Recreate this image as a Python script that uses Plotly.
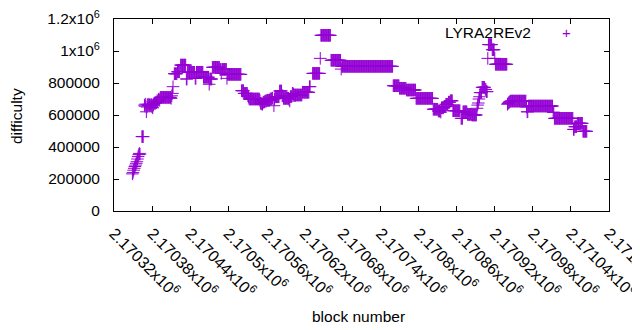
import numpy as np
import plotly.graph_objects as go

# Runs of constant difficulty: (first block offset from 2170320, number of blocks, difficulty in thousands)
base_block = 2170320
run_start = [29, 30, 31, 32, 33, 34, 35, 36, 37, 38, 39, 40, 41,
             44,
             48, 49, 50, 51, 52, 53, 54, 55, 56, 57, 58, 59, 60, 61, 62, 63, 64, 65, 66, 67, 68, 69, 70, 71, 72,
             73, 90, 91, 92, 93,
             95, 100, 105, 114, 116, 128, 130, 141, 150, 151, 155, 167, 169, 170, 178, 179,
             201, 205, 211, 212, 213,
             230, 231, 233, 235, 237, 238, 241, 246, 249, 252, 253, 254, 261, 265, 267, 276, 277, 278, 281, 283, 284, 297, 308,
             313, 325, 326, 342, 358, 359,
             440, 450, 461, 476,
             503, 511, 515, 516, 520, 523, 527, 530, 534, 547, 550, 557, 564,
             572, 573, 574, 575, 576, 577, 580, 585, 587,
             589, 590, 596, 600, 601,
             620, 621, 622, 623, 624, 625, 650, 651, 653, 692, 694,
             724, 726, 730, 739]
run_len = [1, 1, 1, 1, 1, 1, 1, 1, 1, 1, 1, 1, 1,
           3,
           1, 1, 1, 1, 1, 1, 1, 1, 1, 1, 1, 1, 1, 1, 1, 1, 1, 1, 1, 1, 1, 1, 1, 1, 1,
           17, 1, 1, 1, 1,
           5, 4, 9, 2, 12, 2, 11, 9, 1, 4, 12, 2, 1, 8, 1, 22,
           4, 6, 1, 1, 17,
           1, 2, 2, 2, 1, 3, 5, 3, 2, 1, 1, 7, 4, 2, 9, 1, 1, 3, 2, 1, 13, 11, 2,
           12, 1, 16, 16, 1, 81,
           10, 11, 15, 27,
           8, 4, 1, 4, 3, 4, 3, 4, 12, 3, 7, 7, 8,
           1, 1, 1, 1, 1, 3, 5, 2, 2,
           1, 6, 4, 1, 19,
           1, 1, 1, 1, 1, 25, 1, 2, 39, 2, 30,
           2, 4, 9, 7]
run_diff_k = [232, 240, 255, 267, 278, 287, 298, 308, 325, 340, 352, 360, 355,
              465,
              662, 655, 668, 620, 650, 665, 660, 668, 662, 665, 658, 665, 650, 645, 662, 672, 675, 672, 680, 678, 690, 685, 698, 700, 692,
              710, 704, 720, 735, 777,
              858, 870, 912, 825, 867, 829, 867, 836, 792, 825, 898, 885, 860, 885, 829, 854,
              752, 735, 720, 712, 700,
              690, 673, 668, 680, 682, 687, 692, 700, 705, 658, 700, 714, 750, 720, 704, 695, 687, 715, 735, 730, 725, 742, 777,
              860, 954, 1098, 942, 887, 904,
              783, 767, 756, 704,
              636, 625, 618, 645, 652, 667, 680, 689, 627, 579, 620, 604, 600,
              642, 662, 675, 700, 714, 740, 773, 760, 746,
              954, 1040, 1008, 954, 917,
              667, 672, 677, 681, 684, 687, 650, 620, 656, 617, 579,
              510, 527, 548, 498]

x_tick_labels = ["2.17032", "2.17038", "2.17044", "2.1705", "2.17056", "2.17062", "2.17068",
                 "2.17074", "2.1708", "2.17086", "2.17092", "2.17098", "2.17104", "2.1711"]
y_tick_values = [0, 200000, 400000, 600000, 800000, 1000000, 1200000]
y_tick_labels = ["0", "200000", "400000", "600000", "800000", "1x10<sup>6</sup>", "1.2x10<sup>6</sup>"]

blocks = np.concatenate([base_block + np.arange(s, s + n) for s, n in zip(run_start, run_len)])
difficulty = np.repeat(np.array(run_diff_k) * 1000, run_len)

x_tick_values = [float(t) * 1e6 for t in x_tick_labels]
x_tick_text = [t + "x10<sup>6</sup>" for t in x_tick_labels]

PURPLE = "#9400D3"
FONT = "Liberation Sans"

fig = go.Figure()
fig.add_trace(go.Scatter(
    x=blocks, y=difficulty, mode="markers", name="LYRA2REv2",
    marker=dict(symbol="cross-thin", size=9, line=dict(width=1, color=PURPLE), color=PURPLE),
    showlegend=False,
))

# the page body adds an 8 px offset, so margins are reduced accordingly
fig.update_layout(
    width=640, height=330,
    margin=dict(l=106, r=39, t=11, b=127),
    paper_bgcolor="white", plot_bgcolor="white",
    font=dict(family=FONT, size=15.5, color="black"),
    xaxis=dict(range=[x_tick_values[0], x_tick_values[-1]], tickvals=x_tick_values, ticktext=x_tick_text,
               tickangle=45, ticks="inside", ticklen=5, tickcolor="black", showline=True, linecolor="black",
               linewidth=1, mirror="allticks", showgrid=False, zeroline=False, automargin=False,
               ticklabelstandoff=6, ticklabeloverflow="allow", tickfont=dict(size=16)),
    yaxis=dict(range=[0, 1200000], tickvals=y_tick_values, ticktext=y_tick_labels,
               ticks="inside", ticklen=5, tickcolor="black", showline=True, linecolor="black",
               linewidth=1, mirror="allticks", showgrid=False, zeroline=False, automargin=False,
               ticklabelstandoff=10, ticklabeloverflow="allow"),
    annotations=[
        dict(text="block number", xref="paper", yref="paper", x=0.493, y=-0.547,
             xanchor="center", yanchor="middle", showarrow=False),
        dict(text="difficulty", xref="paper", yref="paper", x=-0.197, y=0.497, textangle=-90,
             xanchor="center", yanchor="middle", showarrow=False),
        dict(text="LYRA2REv2", xref="paper", yref="paper", x=0.8464, y=0.932,
             xanchor="right", yanchor="middle", showarrow=False),
        dict(text="+", xref="paper", yref="paper", x=0.9149, y=0.932, font=dict(color=PURPLE, size=15),
             xanchor="center", yanchor="middle", showarrow=False),
    ],
)

fig.write_html("out.html")
